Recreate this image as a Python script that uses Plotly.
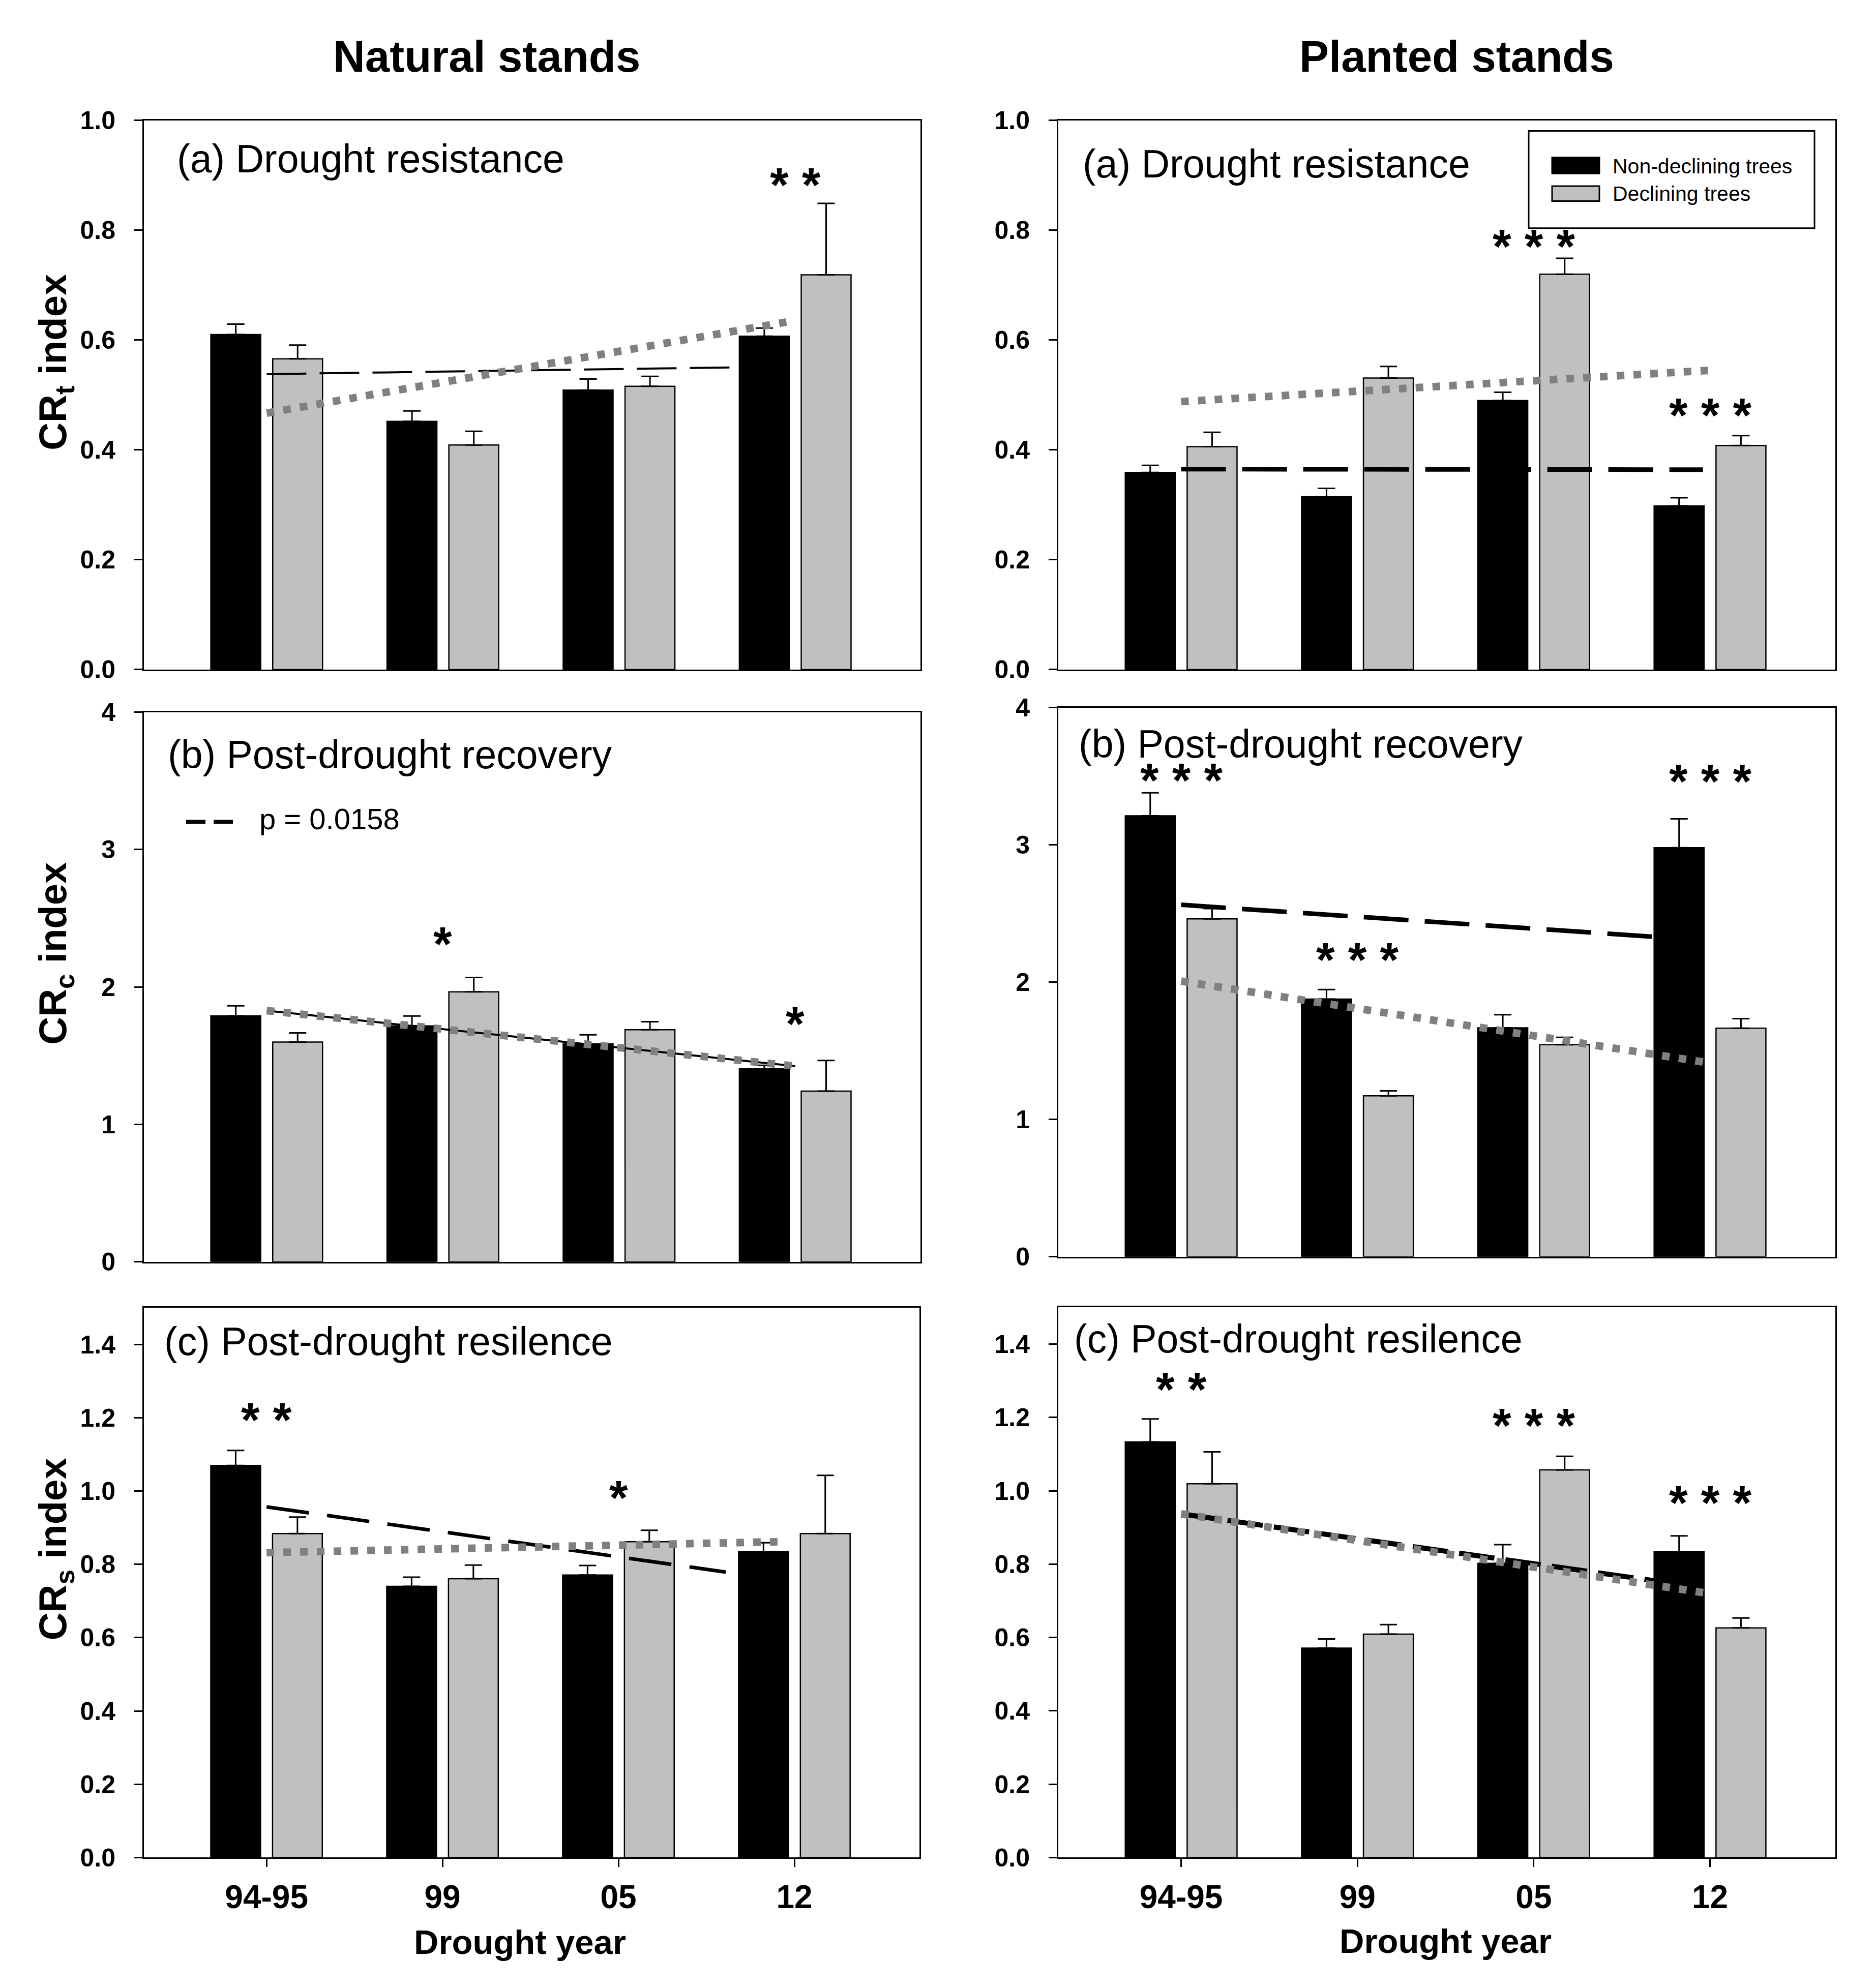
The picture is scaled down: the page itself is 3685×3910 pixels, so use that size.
import plotly.graph_objects as go

W, H = 3685, 3910
FONT = "Liberation Sans, Arial, sans-serif"

# ---------------- data ----------------
years = ["94-95", "99", "05", "12"]
xpos = list(range(len(years)))
name_nd = "Non-declining trees"
name_d = "Declining trees"

# Natural stands - (a) drought resistance (CRt)
res_nat_nd = [0.610, 0.452, 0.509, 0.607]
res_nat_nd_se = [0.019, 0.019, 0.020, 0.015]
res_nat_d = [0.566, 0.409, 0.516, 0.719]
res_nat_d_se = [0.025, 0.025, 0.018, 0.130]
res_nat_trend_nd_x = [0, 3]
res_nat_trend_nd = [0.538, 0.552]
res_nat_trend_d_x = [0, 2.95]
res_nat_trend_d = [0.467, 0.633]
res_nat_stars = ["", "", "", "* *"]
res_nat_star_y = [None, None, None, 0.892]

# Planted stands - (a) drought resistance (CRt)
res_pla_nd = [0.359, 0.315, 0.490, 0.298]
res_pla_nd_se = [0.013, 0.015, 0.015, 0.015]
res_pla_d = [0.406, 0.531, 0.720, 0.408]
res_pla_d_se = [0.026, 0.021, 0.029, 0.018]
res_pla_trend_nd_x = [0, 2.96]
res_pla_trend_nd = [0.365, 0.364]
res_pla_trend_d_x = [0, 3]
res_pla_trend_d = [0.488, 0.545]
res_pla_stars = ["", "", "* * *", "* * *"]
res_pla_star_y = [None, None, 0.780, 0.473]

# Natural stands - (b) post-drought recovery (CRc)
rec_nat_nd = [1.790, 1.717, 1.585, 1.404]
rec_nat_nd_se = [0.073, 0.072, 0.067, 0.026]
rec_nat_d = [1.599, 1.965, 1.689, 1.242]
rec_nat_d_se = [0.067, 0.104, 0.058, 0.223]
rec_nat_trend_nd_x = [0, 3]
rec_nat_trend_nd = [1.828, 1.424]
rec_nat_trend_d_x = [0, 3]
rec_nat_trend_d = [1.828, 1.424]
rec_nat_stars = ["", "*", "", "*"]
rec_nat_star_y = [None, 2.35, None, 1.77]
rec_nat_pvalue = "p = 0.0158"

# Planted stands - (b) post-drought recovery (CRc)
rec_pla_nd = [3.212, 1.877, 1.668, 2.980]
rec_pla_nd_se = [0.168, 0.070, 0.095, 0.210]
rec_pla_d = [2.461, 1.173, 1.545, 1.665]
rec_pla_d_se = [0.075, 0.036, 0.053, 0.070]
rec_pla_trend_nd_x = [0, 2.96]
rec_pla_trend_nd = [2.564, 2.307]
rec_pla_trend_d_x = [0, 2.96]
rec_pla_trend_d = [2.008, 1.419]
rec_pla_stars = ["* * *", "* * *", "", "* * *"]
rec_pla_star_y = [3.51, 2.20, None, 3.50]

# Natural stands - (c) post-drought resilience (CRs)
sil_nat_nd = [1.070, 0.740, 0.771, 0.835]
sil_nat_nd_se = [0.041, 0.025, 0.026, 0.024]
sil_nat_d = [0.884, 0.761, 0.862, 0.884]
sil_nat_d_se = [0.045, 0.037, 0.031, 0.159]
sil_nat_trend_nd_x = [0, 2.61]
sil_nat_trend_nd = [0.957, 0.779]
sil_nat_trend_d_x = [0, 2.93]
sil_nat_trend_d = [0.832, 0.862]
sil_nat_stars = ["* *", "", "*", ""]
sil_nat_star_y = [1.209, None, 0.996, None]

# Planted stands - (c) post-drought resilience (CRs)
sil_pla_nd = [1.133, 0.571, 0.802, 0.834]
sil_pla_nd_se = [0.063, 0.025, 0.051, 0.043]
sil_pla_d = [1.019, 0.609, 1.057, 0.626]
sil_pla_d_se = [0.087, 0.026, 0.037, 0.027]
sil_pla_trend_nd_x = [0, 2.96]
sil_pla_trend_nd = [0.937, 0.736]
sil_pla_trend_d_x = [0, 2.98]
sil_pla_trend_d = [0.937, 0.721]
sil_pla_stars = ["* *", "", "* * *", "* * *"]
sil_pla_star_y = [1.29, None, 1.192, 0.982]

col_titles = ["Natural stands", "Planted stands"]
row_titles = ["CR<sub>t</sub> index", "CR<sub>c</sub> index", "CR<sub>s</sub> index"]
panel_labels = ["(a) Drought resistance", "(b) Post-drought recovery", "(c) Post-drought resilence"]
x_title = "Drought year"

# ---------------- layout helpers ----------------
BLACK = "#000000"
GREY_BAR = "#c0c0c0"
GREY_DOT = "#808080"


def fx(px):
    return px / W


def fy(px):
    return 1 - px / H


# panel geometry in pixels: (left, right, top, bottom)
geo = [
    (283, 1810, 212, 1308),
    (2081, 3609, 212, 1308),
    (283, 1810, 1393, 2490),
    (2081, 3609, 1384, 2480),
    (283, 1808, 2582, 3679),
    (2081, 3609, 2581, 3679),
]
label_pos = [(346, 288), (2127, 298), (328, 1478), (2119, 1456), (321, 2649), (2110, 2644)]

panels = [
    dict(nd=res_nat_nd, nd_se=res_nat_nd_se, d=res_nat_d, d_se=res_nat_d_se,
         tx_nd=res_nat_trend_nd_x, t_nd=res_nat_trend_nd, tx_d=res_nat_trend_d_x, t_d=res_nat_trend_d,
         stars=res_nat_stars, star_y=res_nat_star_y, ymax=1.0, dtick=0.2, fmt=".1f",
         label=panel_labels[0], nd_line=dict(color=BLACK, width=4, dash="78px,26px")),
    dict(nd=res_pla_nd, nd_se=res_pla_nd_se, d=res_pla_d, d_se=res_pla_d_se,
         tx_nd=res_pla_trend_nd_x, t_nd=res_pla_trend_nd, tx_d=res_pla_trend_d_x, t_d=res_pla_trend_d,
         stars=res_pla_stars, star_y=res_pla_star_y, ymax=1.0, dtick=0.2, fmt=".1f",
         label=panel_labels[0], nd_line=dict(color=BLACK, width=9, dash="88px,32px")),
    dict(nd=rec_nat_nd, nd_se=rec_nat_nd_se, d=rec_nat_d, d_se=rec_nat_d_se,
         tx_nd=rec_nat_trend_nd_x, t_nd=rec_nat_trend_nd, tx_d=rec_nat_trend_d_x, t_d=rec_nat_trend_d,
         stars=rec_nat_stars, star_y=rec_nat_star_y, ymax=4, dtick=1, fmt="d",
         label=panel_labels[1], nd_line=dict(color=BLACK, width=4)),
    dict(nd=rec_pla_nd, nd_se=rec_pla_nd_se, d=rec_pla_d, d_se=rec_pla_d_se,
         tx_nd=rec_pla_trend_nd_x, t_nd=rec_pla_trend_nd, tx_d=rec_pla_trend_d_x, t_d=rec_pla_trend_d,
         stars=rec_pla_stars, star_y=rec_pla_star_y, ymax=4, dtick=1, fmt="d",
         label=panel_labels[1], nd_line=dict(color=BLACK, width=9, dash="88px,32px")),
    dict(nd=sil_nat_nd, nd_se=sil_nat_nd_se, d=sil_nat_d, d_se=sil_nat_d_se,
         tx_nd=sil_nat_trend_nd_x, t_nd=sil_nat_trend_nd, tx_d=sil_nat_trend_d_x, t_d=sil_nat_trend_d,
         stars=sil_nat_stars, star_y=sil_nat_star_y, ymax=1.5, dtick=0.2, fmt=".1f",
         label=panel_labels[2], nd_line=dict(color=BLACK, width=7, dash="84px,36px")),
    dict(nd=sil_pla_nd, nd_se=sil_pla_nd_se, d=sil_pla_d, d_se=sil_pla_d_se,
         tx_nd=sil_pla_trend_nd_x, t_nd=sil_pla_trend_nd, tx_d=sil_pla_trend_d_x, t_d=sil_pla_trend_d,
         stars=sil_pla_stars, star_y=sil_pla_star_y, ymax=1.5, dtick=0.2, fmt=".1f",
         label=panel_labels[2], nd_line=dict(color=BLACK, width=10, dash="70px,22px")),
]

fig = go.Figure()
annotations = []
shapes = []
layout_axes = {}

for i, p in enumerate(panels, start=1):
    sx = "" if i == 1 else str(i)
    xa, ya = "x" + sx, "y" + sx
    err_common = dict(type="data", symmetric=False, color=BLACK, thickness=3, width=17)
    fig.add_trace(go.Bar(
        x=xpos, y=p["nd"], name=name_nd, xaxis=xa, yaxis=ya, showlegend=False,
        marker=dict(color=BLACK, line=dict(color=BLACK, width=2.5)),
        error_y=dict(array=p["nd_se"], arrayminus=[0] * len(xpos), **err_common)))
    fig.add_trace(go.Bar(
        x=xpos, y=p["d"], name=name_d, xaxis=xa, yaxis=ya, showlegend=False,
        marker=dict(color=GREY_BAR, line=dict(color=BLACK, width=2.5)),
        error_y=dict(array=p["d_se"], arrayminus=[0] * len(xpos), **err_common)))
    fig.add_trace(go.Scatter(
        x=p["tx_nd"], y=p["t_nd"], mode="lines", xaxis=xa, yaxis=ya, showlegend=False,
        name=name_nd + " trend", line=p["nd_line"]))
    fig.add_trace(go.Scatter(
        x=p["tx_d"], y=p["t_d"], mode="lines", xaxis=xa, yaxis=ya, showlegend=False,
        name=name_d + " trend", line=dict(color=GREY_DOT, width=15, dash="15px,18px")))

    l, r, t, b = geo[i - 1]
    bottom_row = i >= 5
    layout_axes["xaxis" + sx] = dict(
        domain=[fx(l), fx(r)], anchor=ya, range=[-0.697, 3.711],
        showline=True, mirror=True, linecolor=BLACK, linewidth=3,
        showgrid=False, zeroline=False,
        tickmode="array", tickvals=xpos, ticktext=years,
        ticks="outside" if bottom_row else "", ticklen=16, tickwidth=3, tickcolor=BLACK,
        showticklabels=bottom_row, ticklabelstandoff=4,
        tickfont=dict(family=FONT, size=64, color=BLACK, weight="bold"))
    layout_axes["yaxis" + sx] = dict(
        domain=[fy(b), fy(t)], anchor=xa, range=[0, p["ymax"]],
        showline=True, mirror=True, linecolor=BLACK, linewidth=3,
        showgrid=False, zeroline=False,
        tick0=0, dtick=p["dtick"], tickformat=p["fmt"],
        ticks="outside", ticklen=16, tickwidth=3, tickcolor=BLACK, ticklabelstandoff=27,
        tickfont=dict(family=FONT, size=50, color=BLACK, weight="bold"))

    # panel label
    lx, ly = label_pos[i - 1]
    annotations.append(dict(
        text=p["label"], x=fx(lx), y=fy(ly), xref="paper", yref="paper",
        xanchor="left", yanchor="middle", showarrow=False,
        font=dict(family=FONT, size=77, color=BLACK)))

    # significance stars
    for j, s in enumerate(p["stars"]):
        if s:
            annotations.append(dict(
                text=s, x=xpos[j], y=p["star_y"][j], xref=xa, yref=ya,
                xanchor="center", yanchor="middle", showarrow=False, yshift=-10,
                font=dict(family=FONT, size=94, color=BLACK, weight="bold")))

# column titles
for txt, cx in zip(col_titles, [957, 2864]):
    annotations.append(dict(
        text=txt, x=fx(cx), y=fy(84), xref="paper", yref="paper",
        xanchor="center", yanchor="middle", showarrow=False,
        font=dict(family=FONT, size=87, color=BLACK, weight="bold")))

# row (y-axis) titles
for txt, cy in zip(row_titles, [695, 1875, 3064]):
    annotations.append(dict(
        text=txt, x=fx(109), y=fy(cy), xref="paper", yref="paper",
        xanchor="center", yanchor="middle", showarrow=False, textangle=-90,
        font=dict(family=FONT, size=76, color=BLACK, weight="bold")))

# x titles
for cx, cy in [(1022, 3848), (2842, 3846)]:
    annotations.append(dict(
        text=x_title, x=fx(cx), y=fy(cy), xref="paper", yref="paper",
        xanchor="center", yanchor="middle", showarrow=False,
        font=dict(family=FONT, size=67, color=BLACK, weight="bold")))

# p-value key in the natural-stands recovery panel
shapes.append(dict(type="line", xref="paper", yref="paper",
                   x0=fx(366), x1=fx(458), y0=fy(1612), y1=fy(1612),
                   line=dict(color=BLACK, width=8, dash="38px,16px")))
annotations.append(dict(
    text=rec_nat_pvalue, x=fx(508), y=fy(1606), xref="paper", yref="paper",
    xanchor="left", yanchor="middle", showarrow=False,
    font=dict(family=FONT, size=58, color=BLACK)))

# legend box (planted stands, panel a)
shapes.append(dict(type="rect", xref="paper", yref="paper",
                   x0=fx(3006), x1=fx(3568), y0=fy(427), y1=fy(233),
                   line=dict(color=BLACK, width=3), fillcolor="white"))
for (nm, col, y0, y1, ty) in [(name_nd, BLACK, 286, 318, 303), (name_d, GREY_BAR, 343, 373, 358)]:
    shapes.append(dict(type="rect", xref="paper", yref="paper",
                       x0=fx(3052), x1=fx(3145), y0=fy(y1), y1=fy(y0),
                       line=dict(color=BLACK, width=3), fillcolor=col))
    annotations.append(dict(
        text=nm, x=fx(3169), y=fy(ty), xref="paper", yref="paper",
        xanchor="left", yanchor="middle", showarrow=False,
        font=dict(family=FONT, size=41, color=BLACK)))

fig.update_layout(
    width=W, height=H, autosize=False,
    margin=dict(l=0, r=0, t=0, b=0, pad=0),
    paper_bgcolor="white", plot_bgcolor="white",
    barmode="group", bargap=0.298, bargroupgap=0.194,
    showlegend=False,
    font=dict(family=FONT, color=BLACK),
    annotations=annotations, shapes=shapes,
    **layout_axes)

fig.write_html("out.html", config={"displayModeBar": False},
               post_script="document.body.style.margin='0';document.body.style.overflow='hidden';")
